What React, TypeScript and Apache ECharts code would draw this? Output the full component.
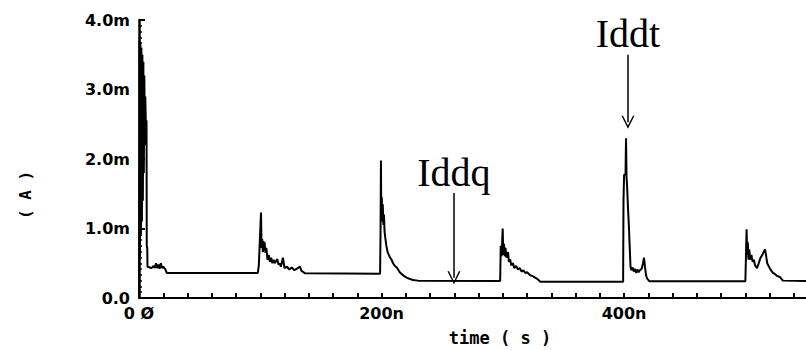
import React, { useEffect, useRef } from "react";
import * as echarts from "echarts";

// time in ns, current in mA, one pair of arrays per switching event
const time0: number[] = [0, 0.4, 0.8, 1.2, 1.6, 2.0, 2.4, 2.8, 3.2, 3.6, 4.0, 4.4, 4.8, 5.2, 5.6, 6.2, 6.4, 6.8, 7.0, 9, 10, 11, 12, 13, 14, 15, 16, 17, 18, 19, 20, 21.5, 23];
const curr0: number[] = [0.0, 3.7, 0.6, 3.65, 0.9, 3.6, 1.1, 3.5, 1.4, 3.4, 1.8, 3.2, 2.2, 2.9, 2.55, 2.55, 0.75, 0.72, 0.45, 0.44, 0.43, 0.44, 0.46, 0.43, 0.5, 0.43, 0.48, 0.42, 0.5, 0.43, 0.45, 0.42, 0.36];

const time100: number[] = [98, 98.8, 100.6, 101.1, 101.6, 102.1, 102.6, 103.1, 103.6, 104.3, 105, 106, 107, 108, 109, 110, 111, 112, 114, 115, 116, 117, 118.7, 120, 122, 124, 126, 128, 130, 132.8, 134, 137, 198.8];
const curr100: number[] = [0.36, 0.47, 1.23, 0.72, 0.85, 0.66, 0.82, 0.68, 0.8, 0.65, 0.72, 0.55, 0.62, 0.52, 0.58, 0.5, 0.55, 0.5, 0.56, 0.48, 0.5, 0.45, 0.58, 0.43, 0.45, 0.41, 0.44, 0.4, 0.42, 0.45, 0.39, 0.355, 0.35];

const time200: number[] = [199.2, 199.5, 199.8, 200.2, 200.6, 201.0, 201.5, 202.0, 202.5, 203.2, 204, 205, 206, 207, 208, 209.5, 211, 212.5, 214, 215, 217, 219, 221, 224, 226, 230, 297.8];
const curr200: number[] = [1.0, 1.98, 1.15, 1.45, 1.1, 1.35, 1.05, 1.2, 0.95, 0.85, 0.75, 0.66, 0.62, 0.58, 0.56, 0.5, 0.46, 0.44, 0.4, 0.37, 0.34, 0.31, 0.29, 0.27, 0.26, 0.25, 0.245];

const time300: number[] = [298.3, 299.0, 299.9, 300.4, 301, 301.6, 302.2, 303, 304.3, 305, 306, 307, 308.4, 309.5, 311, 312.5, 314, 315.5, 317, 318.5, 320, 322.4, 325, 328, 331, 399.2];
const curr300: number[] = [0.75, 0.6, 1.0, 0.62, 0.78, 0.6, 0.72, 0.58, 0.66, 0.52, 0.56, 0.47, 0.5, 0.43, 0.46, 0.41, 0.43, 0.38, 0.4, 0.36, 0.37, 0.33, 0.31, 0.28, 0.235, 0.235];

const time400: number[] = [399.5, 400, 401.2, 401.6, 402, 402.5, 403.2, 404, 404.6, 405.3, 406, 407, 408, 409, 410, 411, 412, 413, 414.5, 415.6, 416.4, 417.2, 418.2, 419, 421, 500];
const curr400: number[] = [1.4, 1.77, 1.78, 2.3, 1.75, 1.6, 1.3, 1.02, 0.75, 0.45, 0.4, 0.44, 0.38, 0.42, 0.36, 0.41, 0.37, 0.4, 0.42, 0.5, 0.58, 0.45, 0.32, 0.28, 0.24, 0.24];

const time500: number[] = [500.5, 501, 501.5, 502, 502.6, 503.2, 504, 505, 506, 507, 508, 509.6, 511, 512.5, 514, 515, 516.2, 517, 518, 519.5, 521, 522.8, 524, 526, 528.6, 531, 550];
const curr500: number[] = [0.6, 0.99, 0.62, 0.8, 0.55, 0.7, 0.55, 0.62, 0.52, 0.55, 0.47, 0.43, 0.5, 0.58, 0.62, 0.66, 0.7, 0.62, 0.5, 0.45, 0.4, 0.36, 0.35, 0.32, 0.3, 0.25, 0.245];

const yTicks: number[] = [0, 1, 2, 3, 4];
const yTickLabels: string[] = ["0.0", "1.0m", "2.0m", "3.0m", "4.0m"];
const xTickValues: number[] = [0, 200, 400];
const xTickLabels: string[] = ["0 Ø", "200n", "400n"];

const annotationNames: string[] = ["Iddq", "Iddt"];
const annotationTimes: number[] = [259.7, 403.2];
const annotationTops: number[] = [1.51, 3.5];
const annotationTips: number[] = [0.29, 2.53];

const LABEL_FONT = "DejaVu Sans";
const NAME_FONT = "DejaVu Sans Mono";

export default function App() {
  const ref = useRef<HTMLDivElement>(null);
  useEffect(() => {
    if (!ref.current) return;
    const chart = echarts.init(ref.current, undefined, { renderer: "svg" });
    const times = [time0, time100, time200, time300, time400, time500];
    const currs = [curr0, curr100, curr200, curr300, curr400, curr500];
    const data: number[][] = [];
    times.forEach((ts, k) => ts.forEach((t, i) => data.push([t, currs[k][i]])));
    const markData = annotationNames.map((n, i) => [
      { coord: [annotationTimes[i], annotationTops[i]], name: n },
      { coord: [annotationTimes[i], annotationTips[i]] },
    ]);
    chart.setOption({
      animation: false,
      backgroundColor: "#ffffff",
      grid: { left: 139, right: 0, top: 20, bottom: 52 },
      xAxis: {
        type: "value",
        min: 0,
        max: 550,
        interval: 20,
        splitLine: { show: false },
        axisLine: { show: true, onZero: false, lineStyle: { color: "#000", width: 2 } },
        axisTick: { show: true, inside: true, length: 5, lineStyle: { color: "#000", width: 2 } },
        axisLabel: {
          show: true,
          margin: 7,
          showMaxLabel: false,
          color: "#000",
          fontFamily: LABEL_FONT,
          fontWeight: "bold",
          fontSize: 16,
          formatter: (v: number) => {
            const idx = xTickValues.indexOf(v);
            return idx >= 0 ? xTickLabels[idx] : "";
          },
        },
      },
      yAxis: {
        type: "value",
        min: 0,
        max: 4,
        interval: 1,
        splitLine: { show: false },
        axisLine: { show: true, lineStyle: { color: "#000", width: 2.5 } },
        axisTick: { show: true, inside: true, length: 6, lineStyle: { color: "#000", width: 2 } },
        minorTick: { show: true, splitNumber: 12, length: 3, lineStyle: { color: "#000", width: 1.5 } },
        axisLabel: {
          show: true,
          margin: 9,
          color: "#000",
          fontFamily: LABEL_FONT,
          fontWeight: "bold",
          fontSize: 16,
          formatter: (v: number) => {
            const idx = yTicks.indexOf(v);
            return idx >= 0 ? yTickLabels[idx] : "";
          },
        },
      },
      graphic: [
        {
          type: "text",
          x: 25,
          y: 195,
          rotation: Math.PI / 2,
          style: {
            text: "( A )",
            fill: "#000",
            font: `bold 16px "${NAME_FONT}"`,
            textAlign: "center",
            textVerticalAlign: "middle",
          },
        },
        {
          type: "text",
          x: 500,
          y: 338,
          style: {
            text: "time ( s )",
            fill: "#000",
            font: `bold 17px "${NAME_FONT}"`,
            textAlign: "center",
            textVerticalAlign: "middle",
          },
        },
      ],
      series: [
        {
          type: "line",
          data,
          symbol: "none",
          smooth: false,
          lineStyle: { color: "#000", width: 2 },
          markLine: {
            silent: true,
            symbol: ["none", "path://M0,10 L5,0 L10,10 L8.8,10 L5,2.4 L1.2,10 Z"],
            symbolSize: [13, 13],
            lineStyle: { color: "#000", width: 1.5, type: "solid" },
            label: {
              show: true,
              position: "start",
              distance: 1,
              formatter: "{b}",
              color: "#000",
              fontFamily: "Liberation Serif",
              fontSize: 40,
            },
            data: markData,
          },
        },
      ],
    });
    return () => chart.dispose();
  }, []);
  return (
    <div
      ref={ref}
      style={{ position: "fixed", left: 0, top: 0, width: 806, height: 350, background: "#fff" }}
    />
  );
}
